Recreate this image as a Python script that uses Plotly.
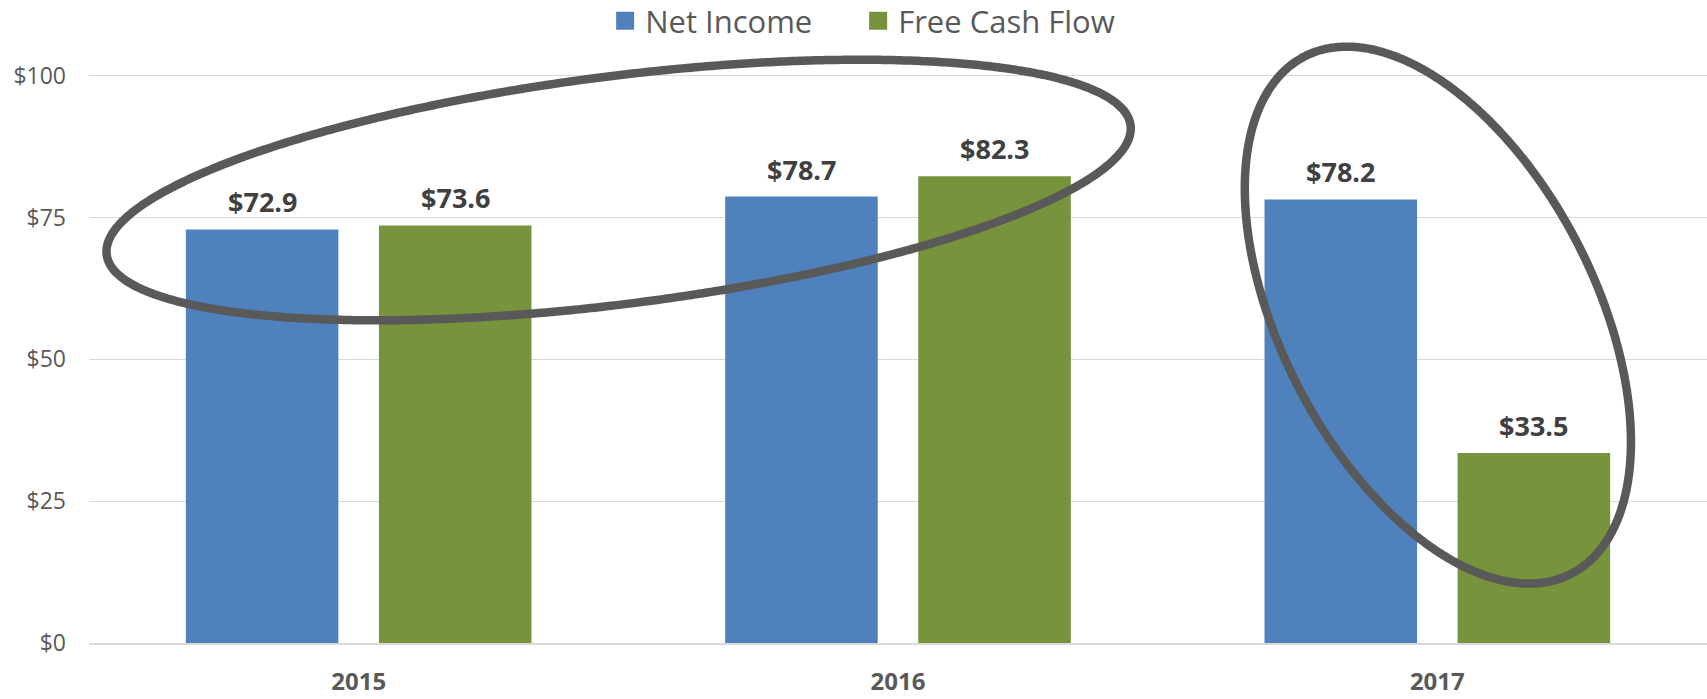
import numpy as np
import plotly.graph_objects as go

# ---------------- data ----------------
years = ["2015", "2016", "2017"]
net_income = [72.9, 78.7, 78.2]
free_cash_flow = [73.6, 82.3, 33.5]
y_tick_values = [0, 25, 50, 75, 100]
y_tick_labels = ["$0", "$25", "$50", "$75", "$100"]
series_names = ["Net Income", "Free Cash Flow"]

# ---------------- style ----------------
BLUE = "#4f81bd"
GREEN = "#77933c"
AXIS_TXT = "#595959"
LABEL_TXT = "#404040"
GRID = "#d9d9d9"
RING = "#595959"
FONT = "Open Sans"

W, H = 1707, 699
M = dict(l=89, r=0, t=19, b=56, autoexpand=False)
X_RANGE = [-0.5, 2.5]
Y_RANGE = [0, 110]
BARGAP = 0.284
BARGROUPGAP = 0.21

x_pos = list(range(len(years)))

fig = go.Figure()
fig.add_trace(go.Bar(x=x_pos, y=net_income, name=series_names[0],
                     marker=dict(color=BLUE, line=dict(width=0)),
                     showlegend=False, hoverinfo="skip"))
fig.add_trace(go.Bar(x=x_pos, y=free_cash_flow, name=series_names[1],
                     marker=dict(color=GREEN, line=dict(width=0)),
                     showlegend=False, hoverinfo="skip"))

# legend proxies (bigger square swatches)
legend_widths = [208, None]
for nm, col, lw in zip(series_names, [BLUE, GREEN], legend_widths):
    fig.add_trace(go.Scatter(x=[None], y=[None], mode="markers", name=nm,
                             marker=dict(symbol="square", size=16, color=col,
                                         line=dict(width=2, color=col)),
                             legendwidth=lw,
                             showlegend=True, hoverinfo="skip"))

# pixel scale helpers for the hand-drawn rings
px_per_x = (W - M["l"] - M["r"]) / (X_RANGE[1] - X_RANGE[0])
px_per_y = (H - M["t"] - M["b"]) / (Y_RANGE[1] - Y_RANGE[0])


def ring(cx, cy, a_px, b_px, angle_deg, n=400):
    t = np.linspace(0, 2 * np.pi, n)
    th = np.radians(angle_deg)
    dx = a_px * np.cos(t) * np.cos(th) - b_px * np.sin(t) * np.sin(th)
    dy = a_px * np.cos(t) * np.sin(th) + b_px * np.sin(t) * np.cos(th)
    return cx + dx / px_per_x, cy + dy / px_per_y


# ring around 2015-2016 and ring around 2017
rings = [
    dict(cx=0.482, cy=79.85, a=516, b=114, ang=7.2),
    dict(cx=2.001, cy=57.8, a=291, b=157, ang=-62.7),
]
for r in rings:
    xs, ys = ring(r["cx"], r["cy"], r["a"], r["b"], r["ang"])
    fig.add_trace(go.Scatter(x=xs, y=ys, mode="lines",
                             line=dict(color=RING, width=8.5, shape="spline", smoothing=0.6),
                             showlegend=False, hoverinfo="skip"))

# value labels
slot = (1 - BARGAP) / 2
annotations = []
for i, (a, b) in enumerate(zip(net_income, free_cash_flow)):
    for off, v in ((-slot / 2, a), (slot / 2, b)):
        annotations.append(dict(x=x_pos[i] + off, y=v, text=f"<b>${v:.1f}</b>",
                                showarrow=False, yanchor="bottom", yshift=7,
                                font=dict(family=FONT, size=27, color=LABEL_TXT)))

fig.update_layout(
    width=W, height=H, margin=M,
    paper_bgcolor="white", plot_bgcolor="white",
    barmode="group", bargap=BARGAP, bargroupgap=BARGROUPGAP,
    font=dict(family=FONT, color=AXIS_TXT),
    annotations=annotations,
    legend=dict(orientation="h", x=0.319, xanchor="left", y=0.9968, yanchor="middle",
                font=dict(family=FONT, size=31, color=AXIS_TXT),
                bgcolor="rgba(0,0,0,0)", itemsizing="trace"),
    xaxis=dict(range=X_RANGE, tickvals=x_pos, ticktext=[f"<b>{y}</b>" for y in years],
               tickfont=dict(family=FONT, size=24, color=AXIS_TXT),
               showgrid=False, zeroline=False, showline=True, linecolor=GRID, linewidth=2,
               ticks="", ticklabelstandoff=16, fixedrange=True),
    yaxis=dict(range=Y_RANGE, tickvals=y_tick_values, ticktext=y_tick_labels,
               tickfont=dict(family=FONT, size=23, color=AXIS_TXT),
               showgrid=True, gridcolor=GRID, gridwidth=1, zeroline=False, showline=False,
               ticks="", ticklabelstandoff=22, fixedrange=True),
)

fig.write_html("out.html", config={"displayModeBar": False},
               post_script="document.body.style.margin='0';document.body.style.overflow='hidden';")
